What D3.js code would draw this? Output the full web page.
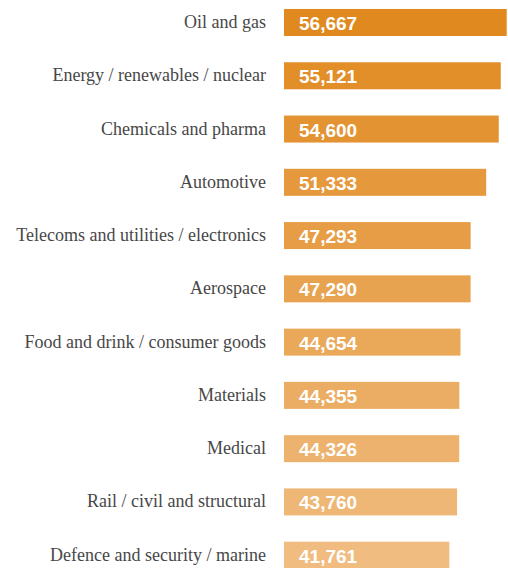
<!DOCTYPE html>
<html>
<head>
<meta charset="utf-8">
<script src="https://cdn.jsdelivr.net/npm/d3@7"></script>
<style>
  body { margin: 0; background: #fff; }
  .cat { font-family: "Liberation Serif", serif; font-size: 18px; fill: #474747; }
  .val { font-family: "Liberation Sans", Arial, sans-serif; font-weight: bold; font-size: 19px; fill: #fff; }
</style>
</head>
<body>
<div id="chart"></div>
<script>
// sectors, top to bottom
const sectors = [
  "Oil and gas",
  "Energy / renewables / nuclear",
  "Chemicals and pharma",
  "Automotive",
  "Telecoms and utilities / electronics",
  "Aerospace",
  "Food and drink / consumer goods",
  "Materials",
  "Medical",
  "Rail / civil and structural",
  "Defence and security / marine"
];
const salaries = [56667, 55121, 54600, 51333, 47293, 47290, 44654, 44355, 44326, 43760, 41761];

const width = 508;
const height = 568;

const svg = d3.select("#chart")
  .append("svg")
  .attr("width", width)
  .attr("height", height);

const barX = 284;
const lead = 4.7; // bars start a touch before the scale's zero

const x = d3.scaleLinear()
  .domain([0, d3.max(salaries)])
  .range([0, 218]);

const y = d3.scaleBand()
  .domain(sectors)
  .range([9, 568.7])
  .paddingInner(0.493)
  .paddingOuter(0);

// dark orange at top fading to light
const colour = d3.scaleLinear()
  .domain([0, sectors.length - 1])
  .range(["#e0891f", "#f0bc80"])
  .interpolate(d3.interpolateRgb);

const rows = svg.append("g")
  .selectAll("g")
  .data(sectors.map((s, i) => ({ sector: s, value: salaries[i], i })))
  .join("g");

rows.append("rect")
  .attr("x", barX)
  .attr("y", d => y(d.sector))
  .attr("width", d => lead + x(d.value))
  .attr("height", y.bandwidth())
  .style("fill", d => colour(d.i));

rows.append("text")
  .attr("class", "cat")
  .attr("x", 266)
  .attr("y", d => y(d.sector) + y.bandwidth() / 2 + 5.5)
  .attr("text-anchor", "end")
  .text(d => d.sector);

rows.append("text")
  .attr("class", "val")
  .attr("x", 299)
  .attr("y", d => y(d.sector) + y.bandwidth() / 2 + 7.5)
  .text(d => d3.format(",")(d.value));
</script>
</body>
</html>
